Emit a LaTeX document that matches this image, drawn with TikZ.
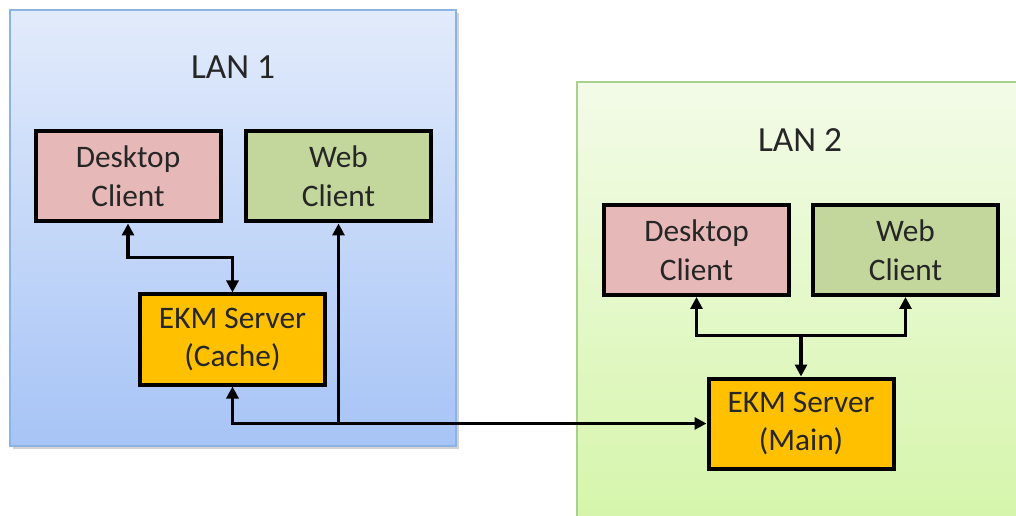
\documentclass[tikz,border=0pt]{standalone}
\usepackage{fontspec}
\setmainfont{Carlito}
\usepackage{xcolor}
\usepackage{tikz}
\usetikzlibrary{arrows.meta,positioning,calc,shadows}
\definecolor{lanblue}{HTML}{A7C4F6}
\definecolor{lanbluetop}{HTML}{E2EBFB}
\definecolor{lanblueborder}{HTML}{8DB3E2}
\definecolor{langreen}{HTML}{D4F5A8}
\definecolor{langreentop}{HTML}{F3FBE8}
\definecolor{langreenborder}{HTML}{A9D18E}
\definecolor{deskpink}{HTML}{E6B9B8}
\definecolor{webgreen}{HTML}{C3D69B}
\definecolor{serverorange}{HTML}{FFC000}
\definecolor{textgray}{HTML}{262626}

\begin{document}
\begin{tikzpicture}[x=0.75pt,y=-0.75pt,
  box/.style={draw=black,line width=3pt,minimum width=138.75pt,minimum height=67.5pt,align=center,text=textgray,font=\fontsize{23.5}{29}\selectfont},
  lanlabel/.style={text=textgray,font=\fontsize{26.5}{30}\selectfont},
  link/.style={line width=2.7pt,arrows={-Triangle[length=9pt,width=9pt]}},
  dlink/.style={line width=2.7pt,arrows={Triangle[length=9pt,width=9pt]-Triangle[length=9pt,width=9pt]}}]
\useasboundingbox (0,0) rectangle (1016,516);
\clip (0,0) rectangle (1016,516);
% LAN areas
\shade[top color=lanbluetop,bottom color=lanblue,draw=lanblueborder,line width=0.8pt,
  drop shadow={shadow xshift=2pt,shadow yshift=-2pt,opacity=0.35}] (10,10) rectangle (456,446);
\shade[top color=langreentop,bottom color=langreen,draw=langreenborder,line width=0.8pt] (577,82) rectangle (1040,540);
\node[lanlabel] (lan1) at (233,67) {LAN 1};
\node[lanlabel] (lan2) at (800,140) {LAN 2};
% LAN 1
\node[box,fill=deskpink] (desk1) at (128,176.5) {Desktop\\Client};
\node[box,fill=webgreen] (web1) at (338.5,176.5) {Web\\Client};
\node[box,fill=serverorange] (cache) at (232.5,339.5) {EKM Server\\(Cache)};
% LAN 2
\node[box,fill=deskpink] (desk2) at (696.5,250) {Desktop\\Client};
\node[box,fill=webgreen] (web2) at (905.5,250) {Web\\Client};
\node[box,fill=serverorange] (main) at (801,423.5) {EKM Server\\(Main)};
% connectors
\coordinate (hub1) at ($(cache.north)+(0,-35)$);
\coordinate (hub2) at ($(main.north)+(0,-41)$);
\draw[dlink] (desk1.south) |- (hub1) -- (cache.north);
\draw[dlink] (cache.south) |- (main.west);
\draw[link] (web1.south |- main.west) -- (web1.south);
\draw[dlink] (desk2.south) |- (hub2) -| (web2.south);
\draw[link] (hub2) -- (main.north);
\end{tikzpicture}
\end{document}
